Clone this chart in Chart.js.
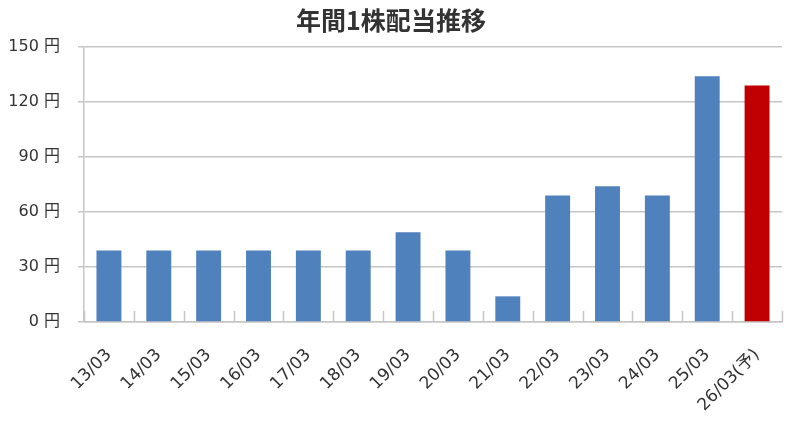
<!DOCTYPE html>
<html>
<head>
<meta charset="utf-8">
<script src="https://cdn.jsdelivr.net/npm/chart.js@4/dist/chart.umd.min.js"></script>
<style>
  html, body { margin: 0; padding: 0; background: #ffffff; }
  #wrap { width: 799px; height: 427px; position: relative; }
</style>
</head>
<body>
<div id="wrap"><canvas id="c" width="799" height="427"></canvas></div>
<script>
const titleText = '年間1株配当推移';
const categories = ['13/03','14/03','15/03','16/03','17/03','18/03','19/03','20/03','21/03','22/03','23/03','24/03','25/03','26/03(予)'];
const dividends = [39, 39, 39, 39, 39, 39, 49, 39, 14, 69, 74, 69, 134, 129];
const forecastFlags = [false,false,false,false,false,false,false,false,false,false,false,false,false,true];
const yTicks = [0, 30, 60, 90, 120, 150];
const yUnit = ' 円';

const BLUE = '#4F81BD';
const RED = '#C00000';
const GRID = '#c6c6c6';
const FONT = "'DejaVu Sans', 'Noto Sans CJK JP', sans-serif";

const innerTicks = {
  id: 'innerTicks',
  beforeDatasetsDraw(chart) {
    const x = chart.scales.x;
    const ctx = chart.ctx;
    const n = categories.length;
    const bottom = chart.chartArea.bottom;
    const half = (x.getPixelForValue(1) - x.getPixelForValue(0)) / 2;
    ctx.save();
    ctx.strokeStyle = GRID;
    ctx.lineWidth = 1.5;
    ctx.beginPath();
    for (let i = 0; i <= n; i++) {
      const px = Math.round(x.getPixelForValue(i) - half) + 0.5;
      ctx.moveTo(px, bottom);
      ctx.lineTo(px, bottom - 11);
    }
    ctx.stroke();
    ctx.restore();
  }
};

new Chart(document.getElementById('c'), {
  type: 'bar',
  data: {
    labels: categories,
    datasets: [{
      data: dividends,
      backgroundColor: forecastFlags.map(f => f ? RED : BLUE),
      borderWidth: 0,
      barPercentage: 0.5,
      categoryPercentage: 1.0
    }]
  },
  options: {
    responsive: false,
    animation: false,
    devicePixelRatio: 1,
    layout: { padding: { left: 0, right: 17, top: 0, bottom: 0 } },
    plugins: {
      legend: { display: false },
      tooltip: { enabled: false },
      title: {
        display: true,
        text: titleText,
        color: '#333333',
        font: { family: "'Noto Sans CJK JP', sans-serif", size: 25, weight: 'bold', lineHeight: 1.2 },
        padding: { top: 5, bottom: 12 }
      }
    },
    scales: {
      x: {
        grid: { display: false },
        border: { display: true, color: GRID, width: 1.5 },
        ticks: {
          color: '#333333',
          font: { family: FONT, size: 17 },
          maxRotation: 45,
          minRotation: 45,
          autoSkip: false,
          padding: 15
        },
        afterFit(scale) { scale.height = 105; }
      },
      y: {
        min: 0,
        max: 150,
        afterBuildTicks(scale) { scale.ticks = yTicks.map(v => ({ value: v })); },
        grid: { color: GRID, lineWidth: 1.5, tickLength: 6, drawTicks: true },
        border: { display: true, color: GRID, width: 1.5 },
        ticks: {
          color: '#333333',
          font: { family: FONT, size: 16 },
          padding: 18,
          callback: v => v + yUnit
        },
        afterFit(scale) { scale.width = 84; }
      }
    }
  },
  plugins: [innerTicks]
});
</script>
</body>
</html>
